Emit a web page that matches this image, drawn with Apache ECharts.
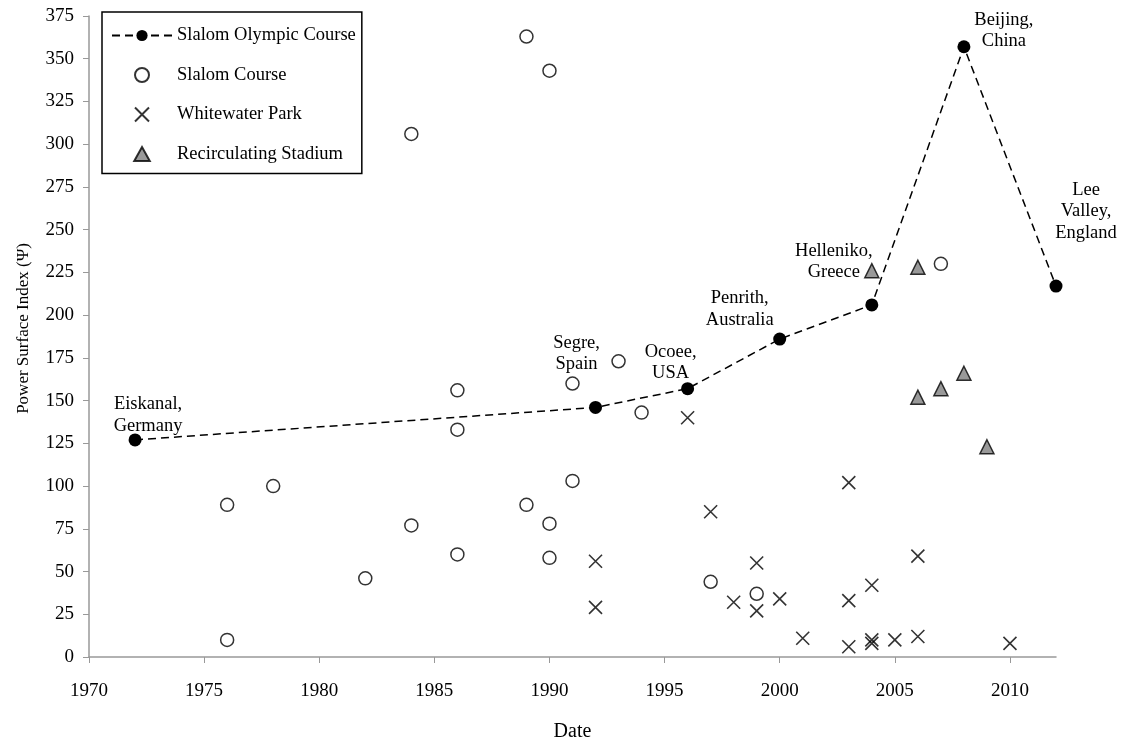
<!DOCTYPE html>
<html>
<head>
<meta charset="utf-8">
<script src="https://cdn.jsdelivr.net/npm/echarts@6/dist/echarts.min.js"></script>
<style>
html, body { margin: 0; padding: 0; background: #fff; }
#main { width: 1122px; height: 745px; }
</style>
</head>
<body>
<div id="main"></div>
<script>
// 数据
var xTicks = [1970, 1975, 1980, 1985, 1990, 1995, 2000, 2005, 2010];

var olympicYears = [1972, 1992, 1996, 2000, 2004, 2008, 2012];
var olympicValues = [127, 146, 157, 186, 206, 357, 217];
var olympicNames = ['Eiskanal,\nGermany', 'Segre,\nSpain', 'Ocoee,\nUSA', 'Penrith,\nAustralia', 'Helleniko,\nGreece', 'Beijing,\nChina', 'Lee\nValley,\nEngland'];

var slalomYears = [1976, 1976, 1978, 1982, 1984, 1984, 1986, 1986, 1986, 1989, 1989, 1990, 1990, 1990, 1991, 1991, 1993, 1994, 1997, 1999, 2007];
var slalomValues = [89, 10, 100, 46, 306, 77, 156, 133, 60, 363, 89, 343, 78, 58, 160, 103, 173, 143, 44, 37, 230];

var parkYears = [1992, 1992, 1996, 1997, 1998, 1999, 1999, 2000, 2001, 2003, 2003, 2003, 2004, 2004, 2004, 2005, 2006, 2006, 2010];
var parkValues = [56, 29, 140, 85, 32, 55, 27, 34, 11, 102, 33, 6, 42, 10, 8, 10, 59, 12, 8];

var stadiumYears = [2004, 2006, 2006, 2007, 2008, 2009];
var stadiumValues = [226, 228, 152, 157, 166, 123];

// 标签偏移
var labelOffsets = [[13, 8], [-19, -21], [-17, 7], [-40, 3], [-38, -10], [40, 17], [30, -31]];

var triPath = 'path://M5,0L10,9L0,9Z';
var crossPath = 'path://M0,0L10,10M10,0L0,10';

function pairs(xs, ys) {
	var out = [];
	for (var i = 0; i < xs.length; i++) {
		out.push([xs[i], ys[i]]);
	}
	return out;
}

var olympicData = [];
for (var i = 0; i < olympicYears.length; i++) {
	olympicData.push({
		value: [olympicYears[i], olympicValues[i]],
		label: {
			show: true,
			position: 'top',
			formatter: olympicNames[i],
			offset: labelOffsets[i]
		}
	});
}

var serif = 'Liberation Serif';
var myChart = echarts.init(document.getElementById('main'));
var option = {
	backgroundColor: '#fff',
	animation: false,
	textStyle: { fontFamily: serif },
	grid: {
		left: 89,
		right: 66,
		top: 16,
		bottom: 88,
		outerBoundsMode: 'none',
		containLabel: false
	},
	legend: {
		orient: 'vertical',
		left: 102,
		top: 12,
		padding: [14, 6, 10, 9],
		itemWidth: 60,
		itemHeight: 14,
		itemGap: 20.5,
		borderColor: '#000',
		borderWidth: 1.5,
		textStyle: { fontFamily: serif, fontSize: 18.5, color: '#000' },
		data: [
			'Slalom Olympic Course',
			'Slalom Course',
			'Whitewater Park',
			{ name: 'Recirculating Stadium', icon: triPath }
		]
	},
	xAxis: {
		type: 'value',
		min: 1970,
		max: 2012,
		interval: 5,
		name: 'Date',
		nameLocation: 'middle',
		nameGap: 65,
		nameTextStyle: { fontFamily: serif, fontSize: 20, color: '#000' },
		splitLine: { show: false },
		axisLine: { lineStyle: { color: '#999', width: 1.5 } },
		axisTick: { show: true, length: 6, customValues: xTicks, lineStyle: { color: '#999' } },
		axisLabel: {
			customValues: xTicks,
			margin: 25,
			fontFamily: serif,
			fontSize: 19,
			color: '#000',
			formatter: function (v) { return String(v); }
		}
	},
	yAxis: {
		type: 'value',
		min: 0,
		max: 375,
		interval: 25,
		name: 'Power Surface Index (Ψ)',
		nameLocation: 'middle',
		nameGap: 57,
		nameTextStyle: { fontFamily: serif, fontSize: 17, color: '#000', padding: [0, 0, 0, 16] },
		splitLine: { show: false },
		axisLine: { show: true, lineStyle: { color: '#999', width: 1.5 } },
		axisTick: { show: true, length: 6, lineStyle: { color: '#999' } },
		axisLabel: { margin: 15, fontFamily: serif, fontSize: 19, color: '#000' }
	},
	series: [{
		name: 'Slalom Olympic Course',
		type: 'line',
		data: olympicData,
		symbol: 'circle',
		symbolSize: 13,
		itemStyle: { color: '#000' },
		lineStyle: { color: '#000', width: 1.5, type: [8, 5] },
		label: {
			fontFamily: serif,
			fontSize: 18.5,
			color: '#000',
			lineHeight: 21.5,
			align: 'center'
		},
		z: 5
	}, {
		name: 'Slalom Course',
		type: 'scatter',
		data: pairs(slalomYears, slalomValues),
		symbol: 'circle',
		symbolSize: 13,
		itemStyle: { color: '#fff', borderColor: '#000', borderWidth: 1.5 }
	}, {
		name: 'Whitewater Park',
		type: 'scatter',
		data: pairs(parkYears, parkValues),
		symbol: crossPath,
		symbolSize: 13,
		itemStyle: { color: 'transparent', borderColor: '#000', borderWidth: 1.6 }
	}, {
		name: 'Recirculating Stadium',
		type: 'scatter',
		data: pairs(stadiumYears, stadiumValues),
		symbol: triPath,
		symbolSize: 14,
		itemStyle: { color: '#808080', borderColor: '#000', borderWidth: 1.5 }
	}]
};
myChart.setOption(option);
</script>
</body>
</html>
